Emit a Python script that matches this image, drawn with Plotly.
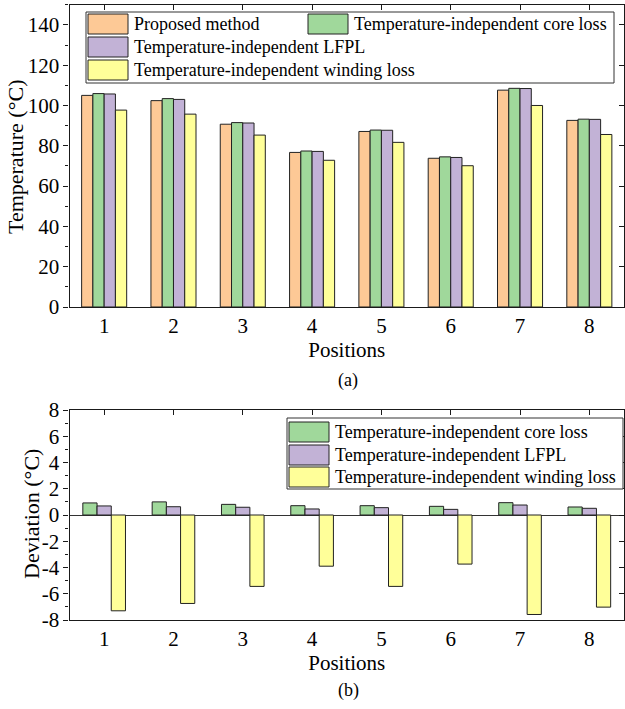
import plotly.graph_objects as go

W, H = 625, 709

positions = [1, 2, 3, 4, 5, 6, 7, 8]
pos_labels = ["1", "2", "3", "4", "5", "6", "7", "8"]

series_names = ["Proposed method",
                "Temperature-independent core loss",
                "Temperature-independent LFPL",
                "Temperature-independent winding loss"]
colors = ["#FDC996", "#A0D89B", "#C2B2D6", "#FFFF99"]

temp_proposed = [105.0, 102.4, 90.7, 76.7, 87.1, 73.8, 107.6, 92.6]
temp_core = [105.9, 103.4, 91.5, 77.4, 87.8, 74.5, 108.5, 93.2]
temp_lfpl = [105.7, 103.0, 91.3, 77.2, 87.7, 74.2, 108.4, 93.1]
temp_winding = [97.7, 95.7, 85.3, 72.8, 81.7, 70.1, 100.0, 85.6]

dev_core = [0.92, 1.00, 0.81, 0.71, 0.71, 0.66, 0.94, 0.61]
dev_lfpl = [0.69, 0.63, 0.59, 0.46, 0.56, 0.43, 0.76, 0.51]
dev_winding = [-7.30, -6.74, -5.44, -3.90, -5.44, -3.74, -7.58, -7.02]

temp_ticks = [0, 20, 40, 60, 80, 100, 120, 140]
dev_ticks = [-8, -6, -4, -2, 0, 2, 4, 6, 8]
dev_tick_text = [str(v) for v in dev_ticks]

FONT = "'Liberation Serif', 'Times New Roman', serif"
AX = "#1a1a1a"


def px(x):
    return x / W


def py(y):
    return 1 - y / H


fig = go.Figure()

# top chart bars
top_series = [temp_proposed, temp_core, temp_lfpl, temp_winding]
bw_top = 0.1625
for i, vals in enumerate(top_series):
    fig.add_trace(go.Bar(
        x=positions, y=vals, name=series_names[i],
        marker=dict(color=colors[i], line=dict(color="#222222", width=1)),
        width=bw_top, offset=-2 * bw_top + i * bw_top,
        xaxis="x", yaxis="y", showlegend=False))

# bottom chart bars
bot_series = [dev_core, dev_lfpl, dev_winding]
bw_bot = 0.205
for i, vals in enumerate(bot_series):
    fig.add_trace(go.Bar(
        x=positions, y=vals, name=series_names[i + 1],
        marker=dict(color=colors[i + 1], line=dict(color="#222222", width=1)),
        width=bw_bot, offset=-1.5 * bw_bot + i * bw_bot,
        xaxis="x2", yaxis="y2", showlegend=False))

# dummy traces for mirrored inner-tick axes
fig.add_trace(go.Scatter(x=[None], y=[None], xaxis="x3", yaxis="y3",
                         showlegend=False, hoverinfo="skip"))
fig.add_trace(go.Scatter(x=[None], y=[None], xaxis="x4", yaxis="y4",
                         showlegend=False, hoverinfo="skip"))

xdom = [px(69.5), px(624)]
ydom_top = [py(307), py(4.7)]
ydom_bot = [py(620), py(410)]
tickfont = dict(family=FONT, size=21, color="black")
titlefont = dict(family=FONT, size=21, color="black")
ytitlefont = dict(family=FONT, size=22, color="black")

common_x = dict(range=[0.5, 8.5], tickvals=positions, ticktext=pos_labels,
                showline=True, linecolor=AX, linewidth=1.3, ticks="",
                showgrid=False, zeroline=False, tickfont=tickfont,
                automargin=False)

fig.update_layout(
    width=W, height=H,
    margin=dict(l=0, r=0, t=0, b=0, pad=0, autoexpand=False),
    paper_bgcolor="white", plot_bgcolor="white",
    font=dict(family=FONT, color="black"),
    showlegend=False,
    xaxis=dict(domain=xdom, anchor="y",
               title=dict(text="Positions", font=titlefont, standoff=4),
               **common_x),
    yaxis=dict(domain=ydom_top, anchor="x", range=[0, 150],
               tickvals=temp_ticks, showline=True, linecolor=AX, linewidth=1.3,
               ticks="outside", ticklen=5, tickwidth=1, tickcolor=AX,
               minor=dict(dtick=10, ticks="outside", ticklen=3, tickcolor=AX),
               showgrid=False, zeroline=False, tickfont=tickfont,
               automargin=False),
    xaxis2=dict(domain=xdom, anchor="y2",
                title=dict(text="Positions", font=titlefont, standoff=4),
                **common_x),
    yaxis2=dict(domain=ydom_bot, anchor="x2", range=[-8, 8],
                tickvals=dev_ticks, ticktext=dev_tick_text,
                showline=True, linecolor=AX, linewidth=1.3,
                ticks="outside", ticklen=5, tickwidth=1, tickcolor=AX,
                minor=dict(dtick=1, ticks="outside", ticklen=3, tickcolor=AX),
                showgrid=False, zeroline=True, zerolinecolor="#333333",
                zerolinewidth=1, tickfont=tickfont, automargin=False),
    xaxis3=dict(overlaying="x", anchor="y", side="top", range=[0.5, 8.5],
                tickvals=positions, ticks="inside", ticklen=5, tickcolor=AX,
                showticklabels=False, showline=True, linecolor=AX,
                linewidth=1.3, showgrid=False, zeroline=False, automargin=False),
    yaxis3=dict(overlaying="y", anchor="x", side="right", range=[0, 150],
                tickvals=temp_ticks, ticks="inside", ticklen=5, tickcolor=AX,
                showticklabels=False, showline=True, linecolor=AX,
                linewidth=1.3, showgrid=False, zeroline=False, automargin=False),
    xaxis4=dict(overlaying="x2", anchor="y2", side="top", range=[0.5, 8.5],
                tickvals=positions, ticks="inside", ticklen=5, tickcolor=AX,
                showticklabels=False, showline=True, linecolor=AX,
                linewidth=1.3, showgrid=False, zeroline=False, automargin=False),
    yaxis4=dict(overlaying="y2", anchor="x2", side="right", range=[-8, 8],
                tickvals=dev_ticks, ticks="inside", ticklen=5, tickcolor=AX,
                showticklabels=False, showline=True, linecolor=AX,
                linewidth=1.3, showgrid=False, zeroline=False, automargin=False),
)

shapes = []
annotations = []
LEGFONT = dict(family=FONT, size=18, color="black")


def legend_box(x0, y0, x1, y1):
    shapes.append(dict(type="rect", xref="paper", yref="paper",
                       x0=px(x0), x1=px(x1), y0=py(y1), y1=py(y0),
                       fillcolor="white", line=dict(color="#333333", width=1),
                       layer="above"))


def legend_item(sx, sy, color, label):
    shapes.append(dict(type="rect", xref="paper", yref="paper",
                       x0=px(sx), x1=px(sx + 40), y0=py(sy + 20), y1=py(sy),
                       fillcolor=color, line=dict(color="#222222", width=1),
                       layer="above"))
    annotations.append(dict(xref="paper", yref="paper", x=px(sx + 44),
                            y=py(sy + 10), text=label, showarrow=False,
                            xanchor="left", yanchor="middle", font=LEGFONT))


# top legend
legend_box(86, 12, 614, 83)
legend_item(88, 14, colors[0], series_names[0])
legend_item(308, 14, colors[1], series_names[1])
legend_item(88, 37, colors[2], series_names[2])
legend_item(88, 60, colors[3], series_names[3])

# bottom legend
legend_box(287, 418, 623, 489)
legend_item(289, 422, colors[1], series_names[1])
legend_item(289, 445, colors[2], series_names[2])
legend_item(289, 467, colors[3], series_names[3])

# y-axis titles
annotations.append(dict(xref="paper", yref="paper", x=px(15), y=py(157),
                        text="Temperature (°C)", textangle=-90,
                        showarrow=False, xanchor="center", yanchor="middle",
                        font=ytitlefont))
annotations.append(dict(xref="paper", yref="paper", x=px(31), y=py(514),
                        text="Deviation (°C)", textangle=-90,
                        showarrow=False, xanchor="center", yanchor="middle",
                        font=ytitlefont))

# captions
annotations.append(dict(xref="paper", yref="paper", x=px(348), y=py(380),
                        text="(a)", showarrow=False, xanchor="center",
                        yanchor="middle", font=dict(family=FONT, size=18)))
annotations.append(dict(xref="paper", yref="paper", x=px(348), y=py(690),
                        text="(b)", showarrow=False, xanchor="center",
                        yanchor="middle", font=dict(family=FONT, size=18)))

fig.update_layout(shapes=shapes, annotations=annotations)
fig.write_html("out.html")
